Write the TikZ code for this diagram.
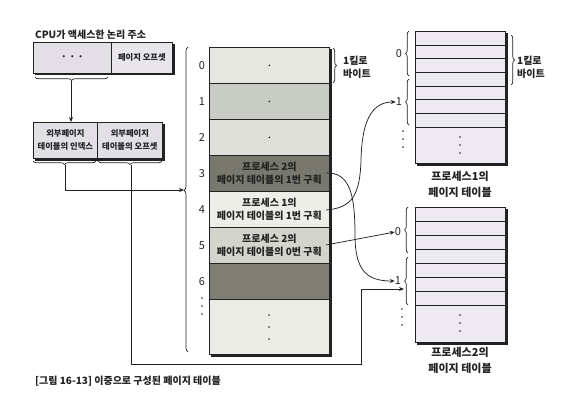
\documentclass[tikz,border=0pt]{standalone}
\usepackage{fontspec}
\setmainfont{Noto Sans CJK KR}
\usetikzlibrary{decorations.pathreplacing,arrows.meta,calc}
\definecolor{ptfill}{HTML}{EDEBF1}
\definecolor{boxfill}{HTML}{E2E0E6}
\definecolor{boxfillb}{HTML}{E8E6EA}
\definecolor{ra}{HTML}{E6E6E0}
\definecolor{rb}{HTML}{C9CCC4}
\definecolor{rc}{HTML}{DEDFD8}
\definecolor{rd}{HTML}{78786E}
\definecolor{re}{HTML}{EEEEE8}
\definecolor{rf}{HTML}{D3D4CB}
\definecolor{rg}{HTML}{7E7E74}
\definecolor{rh}{HTML}{ECECE7}
\definecolor{ink}{HTML}{222222}
\begin{document}
\begin{tikzpicture}[x=1pt,y=-1pt,
  every node/.style={text=ink},
  txt/.style={font=\bfseries\fontsize{10}{13}\selectfont, align=center, inner sep=0},
  small/.style={font=\bfseries\fontsize{8.3}{13}\selectfont, align=center, inner sep=0},
  num/.style={font=\fontsize{11}{12}\selectfont, inner sep=0},
  cell/.style={draw=ink, line width=0.75pt, minimum width=120pt, minimum height=36pt, inner sep=0, anchor=north west, txt},
  ptrow/.style={draw=ink, line width=0.75pt, fill=ptfill, minimum width=90pt, inner sep=0, anchor=north west},
  shadow/.style={fill=ink},
  brc/.style={draw=ink, decorate, decoration={brace, amplitude=3.5pt}, line width=0.7pt},
  arr/.style={draw=ink, -{Stealth[length=5pt,width=4pt]}, line width=0.75pt},
  dot/.style={fill=ink}
]
\useasboundingbox[fill=white] (0,0) rectangle (562,409);

% ---------- top-left logical address ----------
\node[txt, anchor=west] (cpulab) at (35,35) {CPU가 액세스한 논리 주소};
\fill[shadow] (35,44) rectangle (174.5,75.5);
\node[draw=ink, line width=0.75pt, fill=boxfill, minimum width=78pt, minimum height=31pt, inner sep=0, anchor=north west, txt] (addrL) at (33,42) {· · ·};
\node[draw=ink, line width=0.75pt, fill=boxfillb, minimum width=61pt, minimum height=31pt, inner sep=0, anchor=north west, small] (addrR) at (111,42) {페이지 오프셋};
\draw[brc] (108,77) -- (35,77);
\coordinate (topbr) at (71,81);

% ---------- outer page table index/offset ----------
\fill[shadow] (35,124) rectangle (164.5,160.5);
\node[draw=ink, line width=0.75pt, fill=boxfill, minimum width=64pt, minimum height=36pt, inner sep=0, anchor=north west, small] (outL) at (33,122) {외부페이지\\테이블의 인덱스};
\node[draw=ink, line width=0.75pt, fill=boxfill, minimum width=65pt, minimum height=36pt, inner sep=0, anchor=north west, small] (outR) at (97,122) {외부페이지\\테이블의 오프셋};
\draw[arr] (topbr) -- (outL.north -| topbr);
\draw[brc] (96,161) -- (33,161);
\draw[brc] (162,161) -- (98,161);
\coordinate (brL) at (65,165);
\coordinate (brR) at (131,165);

% ---------- main (outer) page table ----------
\fill[shadow] (211,49) rectangle (331.8,356.5);
\node[cell, fill=ra] (m0) at (209,47) {};
\node[cell, fill=rb] (m1) at (209,83) {};
\node[cell, fill=rc] (m2) at (209,119) {};
\node[cell, fill=rd] (m3) at (209,155) {프로세스 2의\\페이지 테이블의 1번 구획};
\node[cell, fill=re] (m4) at (209,191) {프로세스 1의\\페이지 테이블의 1번 구획};
\node[cell, fill=rf] (m5) at (209,227) {프로세스 2의\\페이지 테이블의 0번 구획};
\node[cell, fill=rg] (m6) at (209,263) {};
\node[cell, fill=rh, minimum height=55pt] (m7) at (209,299) {};
\foreach \r in {m0,m1,m2} \fill[dot] (\r.center) circle (0.9pt);
\foreach \yy in {315,327,339} \fill[dot] (269,\yy) circle (0.9pt);
\foreach \r/\t in {m0/0,m1/1,m2/2,m3/3,m4/4,m5/5,m6/6} \node[num] at (202,0 |- \r.center) {\t};
\foreach \yy in {298,306,314} \fill[dot] (202,\yy) circle (0.9pt);
% brace on left of main table
\draw[brc, decoration={brace, amplitude=4pt, aspect=0.53}] (188,352) -- (188,47);
\coordinate (bigtip) at (184,190);
% 1 KB brace
\draw[brc] (333,48) -- (333,83);
\node[txt, align=left] (kb1) at (357,67) {1킬로\\바이트};

% connector from outer index to outer table
\draw[arr] (brL) |- (bigtip);

% ---------- page table of process 1 ----------
\fill[shadow] (417,33) rectangle (507.5,165.5);
\foreach \i in {0,...,6} \node[ptrow, minimum height=13.7pt] (pa\i) at (415,{31+13.7*\i}) {};
\node[ptrow, minimum height=36pt] (parest) at (415,127) {};
\foreach \yy in {137,145,153} \fill[dot] (460,\yy) circle (0.9pt);
\draw[brc] (409,76) -- (409,31);
\draw[brc] (409,125) -- (409,79);
\node[num] (pa0lab) at (399,54) {0};
\node[num] (pa1lab) at (399,102) {1};
\foreach \yy in {131,139,147} \fill[dot] (403,\yy) circle (0.9pt);
\draw[brc] (511,35) -- (511,85);
\node[txt, align=left] (kb2) at (531,67) {1킬로\\바이트};
\node[font=\bfseries\fontsize{11}{16}\selectfont, align=center, inner sep=0] (pacap) at (460,184) {프로세스1의\\페이지 테이블};

% ---------- page table of process 2 ----------
\fill[shadow] (417,209) rectangle (507.5,344.5);
\foreach \i in {0,...,6} \node[ptrow, minimum height=14pt] (pb\i) at (415,{207+14*\i}) {};
\node[ptrow, minimum height=37pt] (pbrest) at (415,305) {};
\foreach \yy in {315,323,331} \fill[dot] (460,\yy) circle (0.9pt);
\draw[brc] (408,253) -- (408,207);
\draw[brc] (408,305) -- (408,257);
\node[num] (pb0lab) at (398,232) {0};
\node[num] (pb1lab) at (398,281) {1};
\foreach \yy in {309,317,325} \fill[dot] (402,\yy) circle (0.9pt);
\node[font=\bfseries\fontsize{11}{16}\selectfont, align=center, inner sep=0] (pbcap) at (460,360) {프로세스2의\\페이지 테이블};

% ---------- connectors from outer table entries ----------
\coordinate (s3) at (326,173);
\coordinate (s4) at (326,210);
\coordinate (s5) at (326,245);
\draw[arr] (s3) .. controls (350,172) and (355,195) .. (355,235) .. controls (355,272) and (368,281) .. (pb1lab.west);
\draw[arr] (s4) .. controls (352,208) and (360,195) .. (361,160) .. controls (362,115) and (375,102) .. (pa1lab.west);
\draw[arr] (s5) -- (pb0lab.west);

% connector from outer offset to page table 2
\coordinate (c1) at (361,364);
\coordinate (c2) at (404,289);
\draw[arr] (brR) |- (c1) |- (c2);

% ---------- caption ----------
\node[txt, anchor=west] (cap) at (35,381) {[그림 16-13] 이중으로 구성된 페이지 테이블};
\end{tikzpicture}
\end{document}
